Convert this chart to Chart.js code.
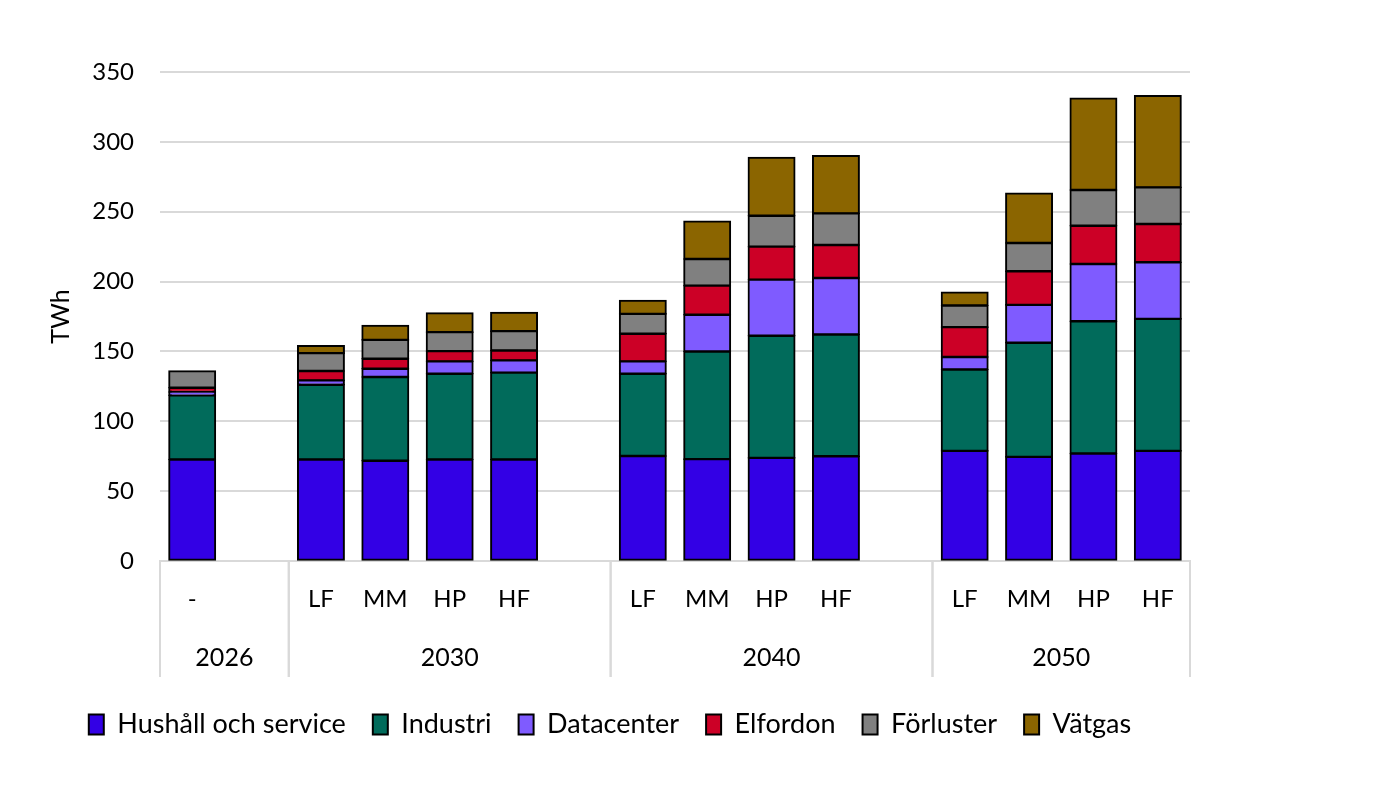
<!DOCTYPE html>
<html>
<head>
<meta charset="utf-8">
<script src="https://cdn.jsdelivr.net/npm/chart.js"></script>
<style>
  html, body { margin: 0; padding: 0; background: #fff; }
  #wrap { width: 1400px; height: 800px; }
</style>
</head>
<body>
<div id="wrap"><canvas id="chart" width="1400" height="800"></canvas></div>
<script>
// categories (empty strings are the gaps between year groups)
const scenarios = ['-', '', 'LF', 'MM', 'HP', 'HF', '', 'LF', 'MM', 'HP', 'HF', '', 'LF', 'MM', 'HP', 'HF'];
const years = ['2026', '2030', '2040', '2050'];
const yearFirst = [0, 2, 7, 12];
const yearLast = [1, 6, 11, 15];
const yTicks = [0, 50, 100, 150, 200, 250, 300, 350];

// TWh per sector
const hushall   = [72.6, null, 72.6, 71.7, 72.6, 72.6, null, 75.2, 72.9, 73.8, 75.0, null, 78.8, 74.5, 76.9, 78.8];
const industri  = [46.0, null, 53.6, 60.0, 61.4, 62.2, null, 58.8, 77.1, 87.4, 87.1, null, 58.3, 81.7, 94.7, 94.5];
const datacenter= [2.4,  null, 3.1,  5.9,  8.9,  8.8,  null, 8.9,  26.2, 40.2, 40.5, null, 8.9,  27.1, 41.0, 40.5];
const elfordon  = [3.0,  null, 6.7,  7.2,  7.3,  7.1,  null, 19.7, 20.9, 23.6, 23.6, null, 21.4, 24.1, 27.4, 27.4];
const forluster = [12.0, null, 12.8, 13.5, 13.6, 13.8, null, 14.3, 19.1, 22.1, 22.6, null, 15.5, 20.2, 25.5, 26.2];
const vatgas    = [null, null, 5.2,  10.3, 13.6, 13.4, null, 9.5,  26.9, 41.7, 41.2, null, 9.5,  35.5, 65.7, 65.5];

const FONT = 'Lato, "Open Sans", sans-serif';

function series(label, data, color) {
    return {
        label: label,
        data: data,
        backgroundColor: color,
        borderColor: '#000',
        borderWidth: 2,
        borderSkipped: false,
        inflateAmount: 0.8,
        categoryPercentage: 1,
        barPercentage: 0.72
    };
}

// draws the year row below the scenario labels, with the boxes around it
const yearGroups = {
    id: 'yearGroups',
    afterDraw(chart) {
        const x = chart.scales.x;
        const ctx = chart.ctx;
        const half = (x.getPixelForValue(1) - x.getPixelForValue(0)) / 2;
        ctx.save();
        ctx.strokeStyle = '#d9d9d9';
        ctx.lineWidth = 2;
        ctx.fillStyle = '#000';
        ctx.font = '25px ' + FONT;
        ctx.textAlign = 'center';
        ctx.textBaseline = 'middle';
        years.forEach((yr, i) => {
            const l = x.getPixelForValue(yearFirst[i]) - half;
            const r = x.getPixelForValue(yearLast[i]) + half;
            ctx.beginPath();
            ctx.moveTo(l, x.top);
            ctx.lineTo(l, x.top + 116);
            ctx.moveTo(r, x.top);
            ctx.lineTo(r, x.top + 116);
            ctx.stroke();
            ctx.fillText(yr, (l + r) / 2, x.top + 97);
        });
        ctx.restore();
    }
};

new Chart(document.getElementById('chart'), {
    type: 'bar',
    data: {
        labels: scenarios,
        datasets: [
            series('Hushåll och service', hushall, '#3300e5'),
            series('Industri', industri, '#016b5b'),
            series('Datacenter', datacenter, '#7f5bff'),
            series('Elfordon', elfordon, '#cc0026'),
            series('Förluster', forluster, '#808080'),
            series('Vätgas', vatgas, '#8b6500')
        ]
    },
    options: {
        responsive: false,
        animation: false,
        layout: { padding: { left: 30, right: 210, top: 72, bottom: 52 } },
        scales: {
            x: {
                stacked: true,
                grid: { display: false },
                border: { display: true, color: '#d9d9d9', width: 2 },
                ticks: {
                    color: '#000',
                    font: { family: FONT, size: 24 },
                    padding: 16,
                    autoSkip: false,
                    maxRotation: 0
                },
                afterFit(scale) { scale.height = 123; }
            },
            y: {
                stacked: true,
                min: 0,
                max: 350,
                afterBuildTicks(scale) { scale.ticks = yTicks.map(v => ({ value: v })); },
                grid: { color: '#d9d9d9', lineWidth: 2, drawTicks: false },
                border: { display: false },
                ticks: {
                    color: '#000',
                    font: { family: FONT, size: 24 },
                    padding: 26
                },
                title: {
                    display: true,
                    text: 'TWh',
                    color: '#000',
                    font: { family: FONT, size: 25 },
                    padding: { top: 16, bottom: 0 }
                },
                afterFit(scale) { scale.width = 130; }
            }
        },
        plugins: {
            legend: {
                position: 'bottom',
                labels: {
                    color: '#000',
                    font: { family: FONT, size: 27 },
                    boxWidth: 15,
                    boxHeight: 20,
                    padding: 27
                }
            },
            tooltip: { enabled: false }
        }
    },
    plugins: [yearGroups]
});
</script>
</body>
</html>
